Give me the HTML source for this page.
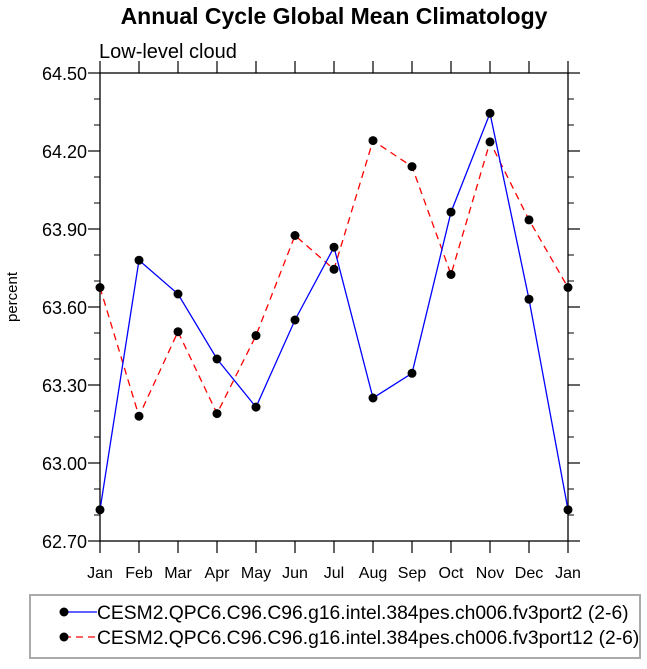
<!DOCTYPE html>
<html><head><meta charset="utf-8"><style>
body{margin:0;background:#fff;}
svg text{font-family:"Liberation Sans",Arial,sans-serif;fill:#000;}
</style></head><body>
<svg width="647" height="664" xmlns="http://www.w3.org/2000/svg">
<text x="334" y="24" text-anchor="middle" font-size="23" font-weight="bold">Annual Cycle Global Mean Climatology</text>
<text x="99" y="58" font-size="20">Low-level cloud</text>
<text transform="translate(17,297) rotate(-90)" text-anchor="middle" font-size="15">percent</text>
<g id="axes"></g>
<g id="series"></g>
<g>
<rect x="30" y="595" width="610" height="63" fill="none" stroke="#aaa" stroke-width="2"/>
<g>
<line x1="64" y1="612" x2="97" y2="612" stroke="#0000ff" stroke-width="1.3"/>
<circle cx="64" cy="612" r="4.5" fill="#000"/>
<text x="97" y="619" font-size="19.3">CESM2.QPC6.C96.C96.g16.intel.384pes.ch006.fv3port2 (2-6)</text>
</g>
<g>
<line x1="64" y1="637" x2="97" y2="637" stroke="#ff0000" stroke-width="1.3" stroke-dasharray="7,5"/>
<circle cx="64" cy="637" r="4.5" fill="#000"/>
<text x="97" y="644" font-size="19.3">CESM2.QPC6.C96.C96.g16.intel.384pes.ch006.fv3port12 (2-6)</text>
</g>
</g>
</svg>
<script>
const months=["Jan","Feb","Mar","Apr","May","Jun","Jul","Aug","Sep","Oct","Nov","Dec","Jan"];
const yTicks=[62.70,63.00,63.30,63.60,63.90,64.20,64.50];
const port2=[62.82,63.78,63.65,63.40,63.215,63.55,63.83,63.25,63.345,63.965,64.345,63.63,62.82];
const port12=[63.675,63.18,63.505,63.19,63.49,63.875,63.745,64.24,64.14,63.725,64.235,63.935,63.675];
const L=100,R=568,T=73,B=541,yMin=62.7,yMax=64.5;
function xs(i){return L+(R-L)*i/(months.length-1);}
function ys(v){return B-(v-yMin)/(yMax-yMin)*(B-T);}
const NS="http://www.w3.org/2000/svg";
function mk(tag,attrs,parent){const e=document.createElementNS(NS,tag);for(const k in attrs)e.setAttribute(k,attrs[k]);parent.appendChild(e);return e;}
const ax=document.getElementById('axes');
const frame=mk('rect',{x:L,y:T,width:R-L,height:B-T,fill:'none',stroke:'#000','stroke-width':1.3},ax);


yTicks.forEach((v,i)=>{
  const y=ys(v);
  mk('line',{x1:L-12,y1:y,x2:L,y2:y,stroke:'#000','stroke-width':1.2},ax);
  mk('line',{x1:R,y1:y,x2:R+12,y2:y,stroke:'#000','stroke-width':1.2},ax);
  const t=mk('text',{x:L-13,y:y+7,'text-anchor':'end','font-size':18},ax);
  t.textContent=v.toFixed(2);
  
  
  if(i<yTicks.length-1){
    for(let k=1;k<3;k++){const ym=ys(v+0.1*k);
      mk('line',{x1:L-6,y1:ym,x2:L,y2:ym,stroke:'#000','stroke-width':1},ax);
      mk('line',{x1:R,y1:ym,x2:R+6,y2:ym,stroke:'#000','stroke-width':1},ax);}
  }
});
months.forEach((m,i)=>{
  const x=xs(i);
  mk('line',{x1:x,y1:B,x2:x,y2:B+12,stroke:'#000','stroke-width':1.2},ax);
  mk('line',{x1:x,y1:T-12,x2:x,y2:T,stroke:'#000','stroke-width':1.2},ax);
  const t=mk('text',{x:x,y:B+37,'text-anchor':'middle','font-size':16},ax);
  t.textContent=m;
  
  
});
const sg=document.getElementById('series');
function draw(vals,color,dash,name){
  const g=mk('g',{},sg);
  
  
  const pts=vals.map((v,i)=>xs(i)+','+ys(v)).join(' ');
  const pl=mk('polyline',{points:pts,fill:'none',stroke:color,'stroke-width':1.3,'stroke-dasharray':dash},g);
  
  
  vals.forEach((v,i)=>{const c=mk('circle',{cx:xs(i),cy:ys(v),r:4.5,fill:'#000'},g);
    
    });
}
draw(port12,'#ff0000','7,5','series-port12');
draw(port2,'#0000ff','none','series-port2');
</script>
</body></html>
